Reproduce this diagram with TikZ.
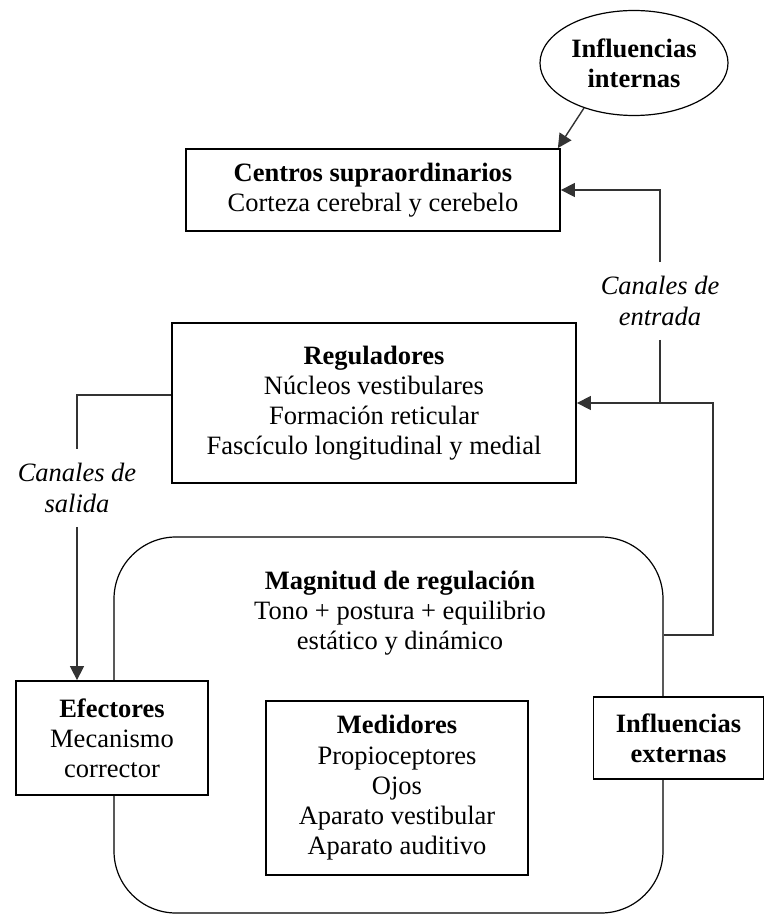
\documentclass[tikz,border=0pt]{standalone}
\usepackage{fontspec}
\setmainfont{Liberation Serif}
\usepackage{tikz}
\usetikzlibrary{calc}
\usetikzlibrary{arrows.meta}
\usetikzlibrary{shapes}
\usetikzlibrary{shapes.geometric}
\usetikzlibrary{positioning}
\tikzset{>=latex}
\tikzstyle{caja} = [draw=black, line width=0.9pt, fill=white, align=center, inner sep=0pt]
\tikzstyle{flecha} = [-{Triangle[length=7pt, width=7pt]}, line width=0.7pt, draw=black!80]
\tikzstyle{linea} = [-, line width=0.7pt, draw=black!80]
\tikzstyle{canal} = [align=center, font=\fontsize{13.25}{15.1}\selectfont\itshape, inner xsep=0pt, inner ysep=7pt]

\begin{document}
\begin{tikzpicture}[x=0.5pt, y=-0.5pt, font=\fontsize{13.25}{15.1}\selectfont]
\useasboundingbox (0, 0) rectangle (766, 915);
\node [draw=black, line width=0.6pt, rounded corners=31pt, minimum width=274.5pt, minimum height=188pt] (lazo) at (388.5, 725) {};
\node [align=center] (magnitud) at (400, 613) {\textbf{Magnitud de regulación}\\Tono + postura + equilibrio\\estático y dinámico};
\node [ellipse, draw=black, line width=0.6pt, inner sep=0pt, minimum width=94pt, minimum height=52.5pt, align=center] (inflint) at (634, 63) {\textbf{Influencias}\\\textbf{internas}};
\node [caja, minimum width=187pt, minimum height=41pt] (centros) at (373, 190) {\textbf{Centros supraordinarios}\\Corteza cerebral y cerebelo};
\node [caja, minimum width=202pt, minimum height=80pt] (reguladores) at (374, 403) {\textbf{Reguladores}\\Núcleos vestibulares\\Formación reticular\\Fascículo longitudinal y medial};
\node [caja, minimum width=96pt, minimum height=57pt] (efectores) at (112, 738) {\textbf{Efectores}\\Mecanismo\\corrector};
\node [caja, minimum width=131pt, minimum height=87pt] (medidores) at (397, 788) {\textbf{Medidores}\\Propioceptores\\Ojos\\Aparato vestibular\\Aparato auditivo};
\node [caja, minimum width=85pt, minimum height=41pt] (inflext) at (678.5, 738) {\textbf{Influencias}\\\textbf{externas}};
\node [canal] (entrada) at (660, 301) {Canales de\\entrada};
\node [canal] (salida) at (77, 488) {Canales de\\salida};
\coordinate (retorno) at (713, 635);
\draw [flecha] (inflint.222) to ([xshift=-1.5pt]centros.north east);
\draw [flecha] (entrada.north) |- (centros.east);
\draw [linea] (entrada.south) to (entrada.south |- reguladores.east);
\draw [flecha] (retorno -| lazo.east) -- (retorno) |- (reguladores.east);
\draw [linea] ([yshift=4pt]reguladores.west) -| (salida.north);
\draw [flecha] (salida.south) to (salida.south |- efectores.north);
\end{tikzpicture}
\end{document}
